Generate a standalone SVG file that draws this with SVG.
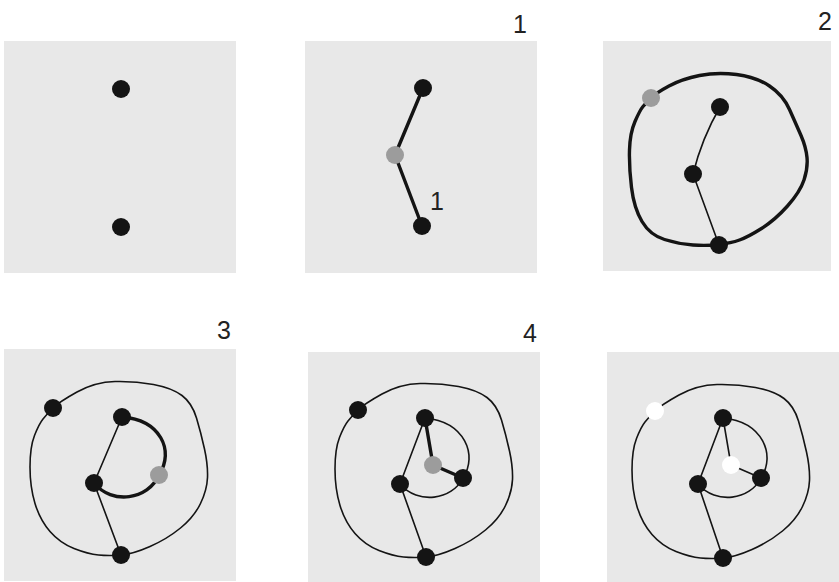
<svg xmlns="http://www.w3.org/2000/svg" xmlns:xlink="http://www.w3.org/1999/xlink" width="839" height="582" viewBox="0 0 839 582">
<style>
.panel{fill:#e8e8e8}
.thin{fill:none;stroke:#141414;stroke-width:1.6;stroke-linecap:round;stroke-linejoin:round}
.thick{fill:none;stroke:#141414;stroke-width:3.4;stroke-linecap:round;stroke-linejoin:round}
.blk{fill:#141414}
.gry{fill:#9c9c9c}
.wht{fill:#ffffff}
.lbl{font-family:"Liberation Sans",Arial,sans-serif;font-size:25px;fill:#222;text-anchor:middle}
</style>
<defs>
<path id="outer" d="M53,408 Q59,402 77,392 Q95,382 115,381.5 Q135,381 153.5,384.5 Q172,388 182,395.5 Q192,403 196.5,418 Q201,433 204.5,449 Q208,465 207.5,477.5 Q207,490 200.5,503.5 Q194,517 180.5,528 Q167,539 150,546.5 Q133,554 121,555 Q109,556 98.5,555 Q88,554 74,548.5 Q60,543 50,531.5 Q40,520 35,503.5 Q30,487 30,467 Q30,447 34.5,435.5 Q39,424 43,419 Q47,414 53,408 Z"/>
</defs>
<rect width="839" height="582" fill="#ffffff"/>
<g id="panels">
<rect class="panel" x="4" y="41" width="232" height="232"/>
<rect class="panel" x="305" y="41" width="232" height="232"/>
<rect class="panel" x="603" y="41" width="228" height="230"/>
<rect class="panel" x="4" y="349" width="232" height="232"/>
<rect class="panel" x="308" y="352" width="232" height="230"/>
<rect class="panel" x="607" y="352" width="232" height="230"/>
</g>
<g id="labels">
<text class="lbl" x="520" y="33">1</text>
<text class="lbl" x="437" y="210">1</text>
<text class="lbl" x="825" y="30">2</text>
<text class="lbl" x="224" y="339">3</text>
<text class="lbl" x="530" y="342">4</text>
</g>
<g id="connectors">
<!-- panel 2 -->
<path class="thick" d="M423,88 L395,155 L422,226"/>
<!-- panel 3 -->
<path class="thick" stroke-width="3.2" d="M651,98 Q656,93 669,86 Q682,79 699.5,75.5 Q717,72 736.5,74.5 Q756,77 769.5,86 Q783,95 789.5,109.5 Q796,124 801,135.5 Q806,147 807,157.5 Q808,168 804,180 Q800,192 787.5,206 Q775,220 761.5,228.5 Q748,237 739.5,240 Q731,243 719,244.5 Q707,246 693,245 Q679,244 664.5,239.5 Q650,235 642,221.5 Q634,208 631.5,187.5 Q629,167 629.5,150 Q630,133 635,121.5 Q640,110 643,106.5 Q646,103 651,98 Z"/>
<path class="thin" d="M720,107 Q702,138 693,174 L719,245"/>
<!-- panel 4 -->
<use href="#outer" class="thin"/>
<path class="thin" d="M122,417 L94,483 L121,555"/>
<path class="thick" d="M122,417 C160,420 175,450 159,475 C148,500 112,505 94,483"/>
<!-- panel 5 -->
<use href="#outer" class="thin" transform="translate(305,2)"/>
<path class="thin" d="M425,418 L400,484 L426,557"/>
<path class="thin" d="M425,418 C465,422 478,455 463,478 C452,500 418,505 400,484"/>
<path class="thick" stroke-width="3" d="M425,418 L433,465 L463,478"/>
<!-- panel 6 -->
<use href="#outer" class="thin" transform="translate(602,3)"/>
<path class="thin" d="M723,418 L698,484 L723,558"/>
<path class="thin" d="M723,418 C763,422 776,455 761,478 C750,500 716,505 698,484"/>
<path class="thin" d="M723,418 L731,465 L761,478"/>
</g>
<g id="p1-top"><circle class="blk" cx="121" cy="89" r="9"/></g>
<g id="p1-bottom"><circle class="blk" cx="121" cy="227" r="9"/></g>
<g id="p2-top"><circle class="blk" cx="423" cy="88" r="9"/></g>
<g id="p2-mid"><circle class="gry" cx="395" cy="155" r="9"/></g>
<g id="p2-bottom"><circle class="blk" cx="422" cy="226" r="9"/></g>
<g id="p3-outer"><circle class="gry" cx="651" cy="98" r="9"/></g>
<g id="p3-top"><circle class="blk" cx="720" cy="107" r="9"/></g>
<g id="p3-mid"><circle class="blk" cx="693" cy="174" r="9"/></g>
<g id="p3-bottom"><circle class="blk" cx="719" cy="245" r="9"/></g>
<g id="p4-outer"><circle class="blk" cx="53" cy="408" r="9"/></g>
<g id="p4-top"><circle class="blk" cx="122" cy="417" r="9"/></g>
<g id="p4-mid"><circle class="blk" cx="94" cy="483" r="9"/></g>
<g id="p4-new"><circle class="gry" cx="159" cy="475" r="9"/></g>
<g id="p4-bottom"><circle class="blk" cx="121" cy="555" r="9"/></g>
<g id="p5-outer"><circle class="blk" cx="358" cy="410" r="9"/></g>
<g id="p5-top"><circle class="blk" cx="425" cy="418" r="9"/></g>
<g id="p5-center"><circle class="gry" cx="433" cy="465" r="9"/></g>
<g id="p5-right"><circle class="blk" cx="463" cy="478" r="9"/></g>
<g id="p5-mid"><circle class="blk" cx="400" cy="484" r="9"/></g>
<g id="p5-bottom"><circle class="blk" cx="426" cy="557" r="9"/></g>
<g id="p6-outer"><circle class="wht" cx="655" cy="411" r="9"/></g>
<g id="p6-top"><circle class="blk" cx="723" cy="418" r="9"/></g>
<g id="p6-center"><circle class="wht" cx="731" cy="465" r="9"/></g>
<g id="p6-right"><circle class="blk" cx="761" cy="478" r="9"/></g>
<g id="p6-mid"><circle class="blk" cx="698" cy="484" r="9"/></g>
<g id="p6-bottom"><circle class="blk" cx="723" cy="558" r="9"/></g>
</svg>
